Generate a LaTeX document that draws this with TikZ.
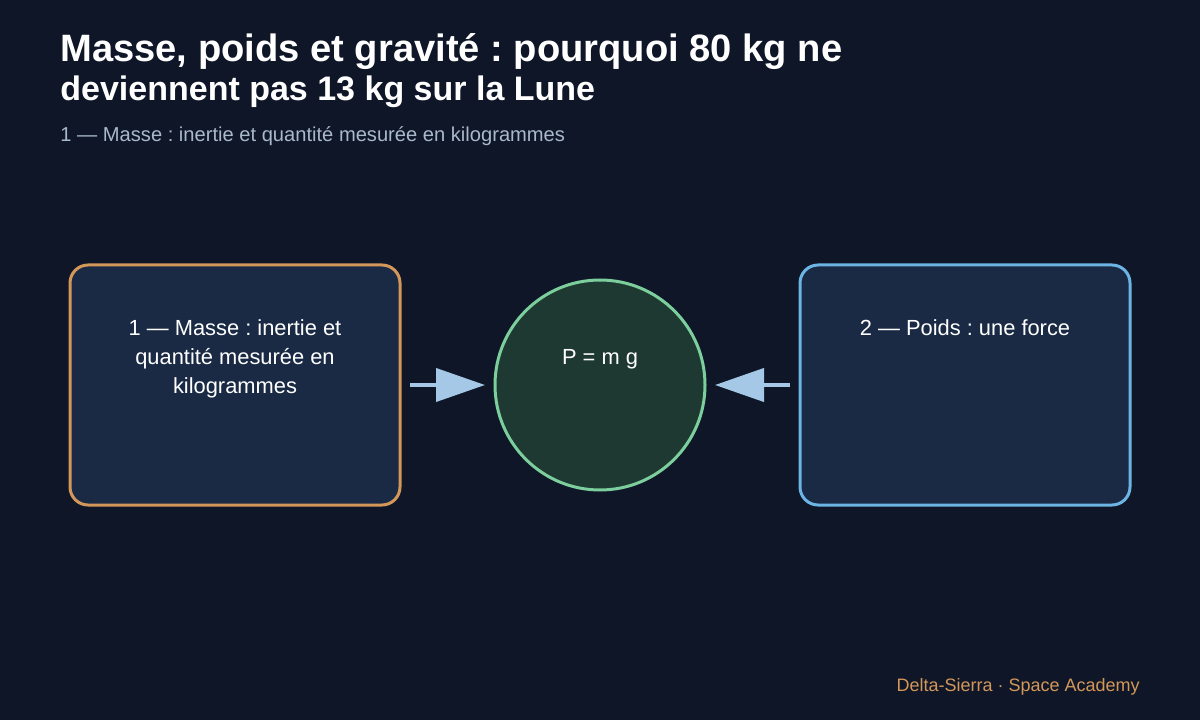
\documentclass[tikz,border=0pt]{standalone}
\usepackage{fontspec}
\setmainfont{Liberation Sans}
\frenchspacing
\usetikzlibrary{arrows.meta,positioning}

\definecolor{fond}{HTML}{0E1627}
\definecolor{boite}{HTML}{1A2A44}
\definecolor{orange}{HTML}{D4975A}
\definecolor{bleu}{HTML}{6CB4E4}
\definecolor{vert}{HTML}{7CCF9C}
\definecolor{vertfond}{HTML}{1E3832}
\definecolor{fleche}{HTML}{A4C8E6}
\definecolor{gris}{HTML}{A9B9CC}

\begin{document}
\begin{tikzpicture}[x=0.75pt,y=-0.75pt,semithick,
                    >={Triangle[length=49*0.75pt,width=33*0.75pt]}]

  \tikzstyle{every box}=[rectangle,draw,line width=2.25pt,rounded corners=13.5pt,
                         fill=boite,minimum width=247.5pt,minimum height=180pt,
                         outer sep=0pt]
  \tikzstyle{txt}=[text=white,font=\fontsize{16.4}{21.75}\selectfont,
                   align=center,inner sep=0pt,anchor=north]

  \useasboundingbox[fill=fond] (0,0) rectangle (1200,720);

  \node[anchor=base west,inner sep=0pt,text=white,
        font=\fontsize{28.6}{30}\selectfont\bfseries] (T1) at (60,62)
        {Masse, poids et gravité : pourquoi 80 kg ne};
  \node[anchor=base west,inner sep=0pt,text=white,
        font=\fontsize{25.5}{28}\selectfont\bfseries] (T2) at (60,101)
        {deviennent pas 13 kg sur la Lune};
  \node[anchor=base west,inner sep=0pt,text=gris,
        font=\fontsize{15.1}{18}\selectfont] (ST) at (60,142)
        {1 — Masse : inertie et quantité mesurée en kilogrammes};

  \node[every box,draw=orange] (MAS) at (235,385) {};
  \node[circle,draw=vert,fill=vertfond,line width=2.25pt,minimum size=157.5pt,
        outer sep=0pt] (GRV) at (600,385) {};
  \node[every box,draw=bleu]   (PDS) at (965,385) {};

  \node[txt] (MAST) at (235,319) {1 — Masse : inertie et\\ quantité mesurée en\\ kilogrammes};
  \node[txt] (GRVT) at (600,349) {P = m g};
  \node[txt] (PDST) at (965,319) {2 — Poids : une force};

  \path[->,draw=fleche,fill=fleche,line width=3pt,shorten <=7.5pt,shorten >=7.5pt]
  (MAS) edge (GRV)
  (PDS) edge (GRV)
  ;

  \node[anchor=base east,inner sep=0pt,text=orange,
        font=\fontsize{13.5}{16}\selectfont] (PIED) at (1140,691)
        {Delta-Sierra · Space Academy};
\end{tikzpicture}
\end{document}
